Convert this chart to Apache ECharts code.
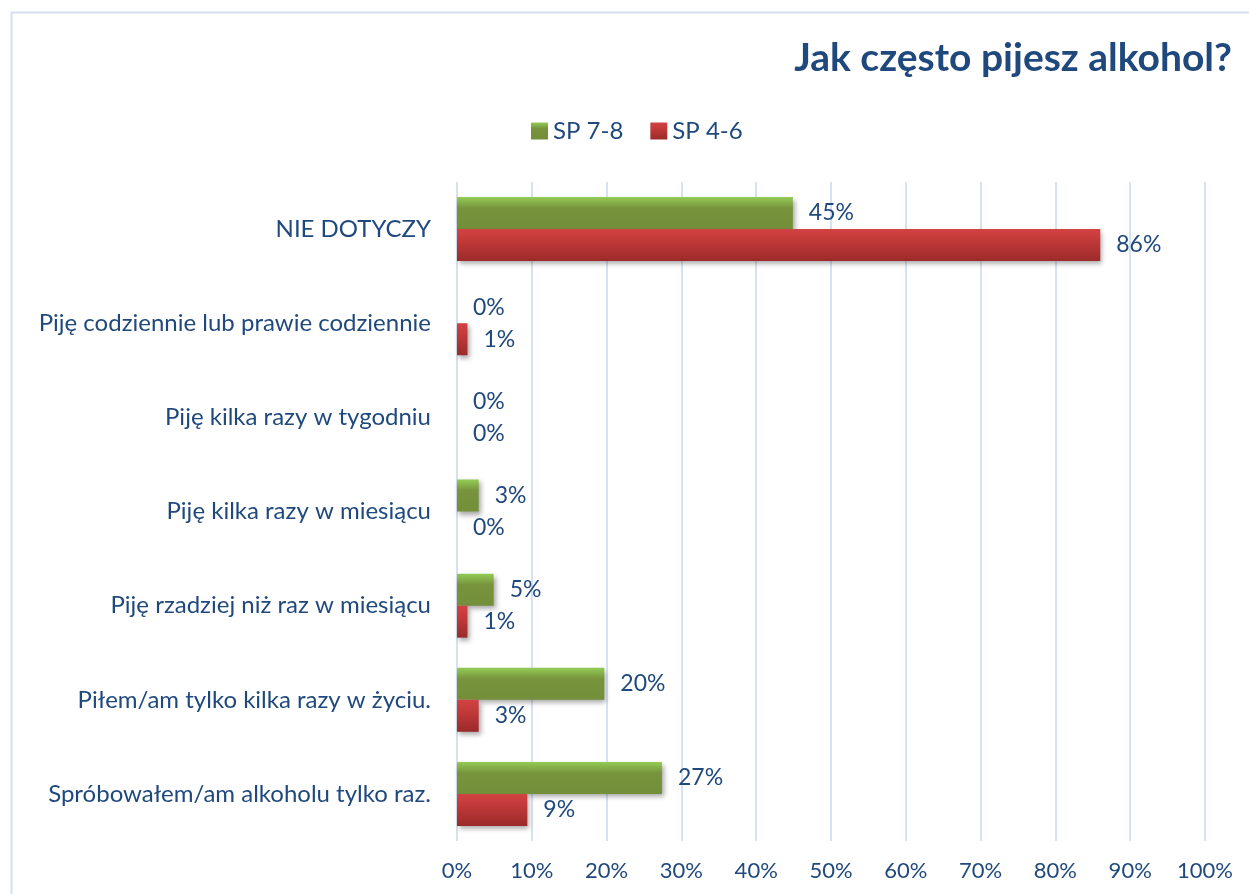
<!DOCTYPE html>
<html>
<head>
    <meta charset="UTF-8">
    <title>Jak często pijesz alkohol?</title>
    <script src="https://cdn.jsdelivr.net/npm/echarts@6/dist/echarts.min.js"></script>
    <style>
        html, body { margin: 0; padding: 0; background: #fff; }
        #main { width: 1249px; height: 894px; }
    </style>
</head>
<body>
    <div id="main"></div>
    <script type="text/javascript">
        // dane (w %)
        var categories = [
            'NIE DOTYCZY',
            'Piję codziennie lub prawie codziennie',
            'Piję kilka razy w tygodniu',
            'Piję kilka razy w miesiącu',
            'Piję rzadziej niż raz w miesiącu',
            'Piłem/am tylko kilka razy w życiu.',
            'Spróbowałem/am alkoholu tylko raz.'
        ];
        var sp78 = [44.9, 0, 0, 2.9, 4.9, 19.7, 27.4];
        var sp46 = [86.0, 1.4, 0, 0, 1.4, 2.9, 9.4];
        var xTicks = [0, 10, 20, 30, 40, 50, 60, 70, 80, 90, 100];

        var textColor = '#1F497D';
        var fontName = 'Lato';

        var myChart = echarts.init(document.getElementById('main'));

        function grad(c1, c2, c3) {
            return new echarts.graphic.LinearGradient(0, 0, 0, 1, [
                { offset: 0, color: c1 },
                { offset: 0.35, color: c2 },
                { offset: 1, color: c3 }
            ]);
        }

        var labelCfg = {
            show: true,
            position: 'right',
            distance: 16,
            color: textColor,
            fontFamily: fontName,
            fontSize: 23,
            formatter: function (p) { return Math.round(p.value) + '%'; }
        };

        myChart.setOption({
            animation: false,
            textStyle: { fontFamily: fontName },
            graphic: [{
                type: 'rect',
                left: 9, top: 10,
                shape: { width: 1300, height: 950 },
                style: { fill: 'none', stroke: '#D5E0EF', lineWidth: 2 },
                silent: true
            }],
            title: {
                text: 'Jak często pijesz alkohol?',
                right: 12,
                top: 34,
                textStyle: { color: textColor, fontSize: 39, fontWeight: 'bold', fontFamily: fontName }
            },
            legend: {
                data: ['SP 7-8', 'SP 4-6'],
                left: 526,
                top: 114,
                itemWidth: 17,
                itemHeight: 17,
                itemGap: 27,
                icon: 'rect',
                textStyle: { color: textColor, fontSize: 24, fontFamily: fontName }
            },
            grid: {
                left: 457,
                right: 44,
                top: 182,
                bottom: 53,
                containLabel: false
            },
            xAxis: {
                type: 'value',
                min: 0,
                max: 100,
                interval: 10,
                axisLine: { show: false },
                axisTick: { show: false },
                axisLabel: {
                    color: textColor,
                    fontSize: 22,
                    fontFamily: fontName,
                    margin: 19,
                    formatter: function (v) { return xTicks.indexOf(v) >= 0 ? v + '%' : ''; }
                },
                splitLine: { show: true, lineStyle: { color: '#D6E2F1', width: 2 } }
            },
            yAxis: {
                type: 'category',
                inverse: true,
                data: categories,
                axisLine: { show: false },
                axisTick: { show: false },
                axisLabel: { color: textColor, fontSize: 24, fontFamily: fontName, margin: 26 }
            },
            series: [
                {
                    name: 'SP 7-8',
                    type: 'bar',
                    data: sp78,
                    barGap: '0%',
                    barCategoryGap: '32%',
                    itemStyle: {
                        color: grad('#93CC55', '#77933C', '#738F39'),
                        shadowColor: 'rgba(0,0,0,0.35)',
                        shadowBlur: 5,
                        shadowOffsetX: 2,
                        shadowOffsetY: 3
                    },
                    label: labelCfg
                },
                {
                    name: 'SP 4-6',
                    type: 'bar',
                    data: sp46,
                    barGap: '0%',
                    barCategoryGap: '32%',
                    itemStyle: {
                        color: grad('#D24343', '#C23A39', '#9B2A2A'),
                        shadowColor: 'rgba(0,0,0,0.35)',
                        shadowBlur: 5,
                        shadowOffsetX: 2,
                        shadowOffsetY: 3
                    },
                    label: labelCfg
                }
            ]
        });
    </script>
</body>
</html>
